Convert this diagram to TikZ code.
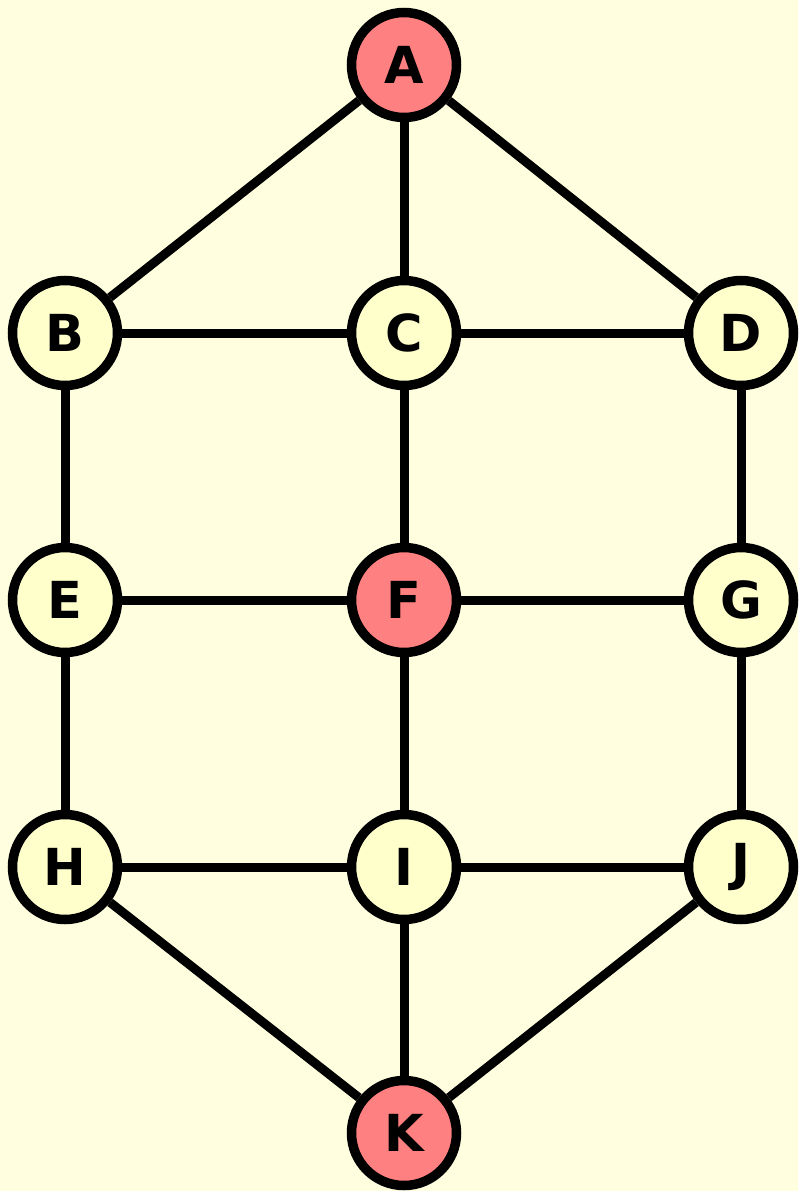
\documentclass[tikz,border=0pt]{standalone}
\usepackage{fontspec}
\setmainfont{DejaVu Sans}
\definecolor{bgcol}{HTML}{FFFFE0}
\definecolor{nodecol}{HTML}{FFFFCC}
\definecolor{hotcol}{HTML}{FF8080}
\begin{document}
\begin{tikzpicture}[x=1pt,y=-1pt,
  vertex/.style={circle,draw=black,line width=9.5pt,fill=nodecol,minimum size=105pt,inner sep=0pt,
    font=\fontsize{51}{60}\selectfont\bfseries},
  hot/.style={vertex,fill=hotcol},
  edge/.style={line width=9pt,draw=black}]
  \fill[bgcol] (0,0) rectangle (798,1191);
  \useasboundingbox (0,0) rectangle (798,1191);
  \node[hot]    (A) at (404,65)  {A};
  \node[vertex] (B) at (65,333)  {B};
  \node[vertex] (C) at (404,333) {C};
  \node[vertex] (D) at (741,333) {D};
  \node[vertex] (E) at (65,600)  {E};
  \node[hot]    (F) at (404,600) {F};
  \node[vertex] (G) at (741,600) {G};
  \node[vertex] (H) at (65,867)  {H};
  \node[vertex] (I) at (404,867) {I};
  \node[vertex] (J) at (741,867) {J};
  \node[hot]    (K) at (404,1133) {K};
  \foreach \u/\v in {A/B,A/C,A/D,B/C,C/D,B/E,C/F,D/G,E/F,F/G,E/H,F/I,G/J,H/I,I/J,H/K,I/K,J/K}
    \draw[edge] (\u) -- (\v);
\end{tikzpicture}
\end{document}
